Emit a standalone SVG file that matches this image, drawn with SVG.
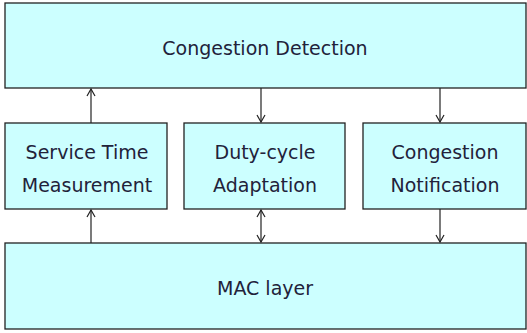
<svg xmlns="http://www.w3.org/2000/svg" width="527" height="333" viewBox="0 0 527 333">
<style>
.box{fill:#ccffff;stroke:#222222;stroke-width:1.3}
.lbl{font-family:"DejaVu Sans",Verdana,sans-serif;font-size:19px;fill:#22223a;text-anchor:middle}
.c{stroke:#222222;stroke-width:1.2;fill:none}
.h{stroke:#222222;stroke-width:1.2;fill:none}
</style>
<rect width="527" height="333" fill="#ffffff"/>
<g id="congestion-detection"><rect class="box" x="5" y="3" width="521" height="85"/><text class="lbl" x="265" y="55">Congestion Detection</text></g>
<g id="service-time"><rect class="box" x="5" y="123" width="162" height="86"/><text class="lbl" x="87" y="159">Service Time</text><text class="lbl" x="87" y="192">Measurement</text></g>
<g id="duty-cycle"><rect class="box" x="184" y="123" width="161" height="86"/><text class="lbl" x="265" y="159">Duty-cycle</text><text class="lbl" x="265" y="192">Adaptation</text></g>
<g id="congestion-notification"><rect class="box" x="363" y="123" width="163" height="86"/><text class="lbl" x="445" y="159">Congestion</text><text class="lbl" x="445" y="192">Notification</text></g>
<g id="mac-layer"><rect class="box" x="5" y="243" width="521" height="86"/><text class="lbl" x="265" y="295">MAC layer</text></g>
<g id="connectors">
<line class="c" x1="91" y1="123" x2="91" y2="89"/><polyline class="h" points="87,96 91,89 95,96"/>
<line class="c" x1="261" y1="88" x2="261" y2="122"/><polyline class="h" points="257,115 261,122 265,115"/>
<line class="c" x1="440" y1="88" x2="440" y2="122"/><polyline class="h" points="436,115 440,122 444,115"/>
<line class="c" x1="91" y1="243" x2="91" y2="210"/><polyline class="h" points="87,217 91,210 95,217"/>
<line class="c" x1="261" y1="210" x2="261" y2="242"/><polyline class="h" points="257,217 261,210 265,217"/><polyline class="h" points="257,235 261,242 265,235"/>
<line class="c" x1="440" y1="209" x2="440" y2="242"/><polyline class="h" points="436,235 440,242 444,235"/>
</g>
</svg>
